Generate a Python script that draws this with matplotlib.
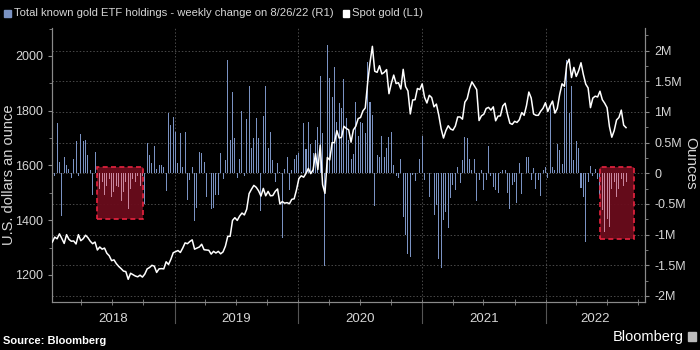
import matplotlib
matplotlib.use('Agg')
import matplotlib.pyplot as plt
import matplotlib.dates as mdates
import matplotlib.transforms as mtransforms
from matplotlib.patches import Rectangle
from matplotlib.lines import Line2D
from matplotlib.ticker import MultipleLocator, FixedLocator
import numpy as np
import pandas as pd

plt.rcParams['font.family'] = ['Liberation Sans', 'DejaVu Sans']

# ---- Spot gold, weekly (USD/oz) ----
gold_2018 = [1320,1338,1332,1350,1333,1315,1347,1330,1323,1324,1313,1347,1325,1332,1345,1336,1323,1314,1320,1291,
             1302,1294,1298,1279,1270,1252,1255,1241,1231,1223,1214,1212,1184,1206,1201,1196,1193,1199,1192,1203,
             1222,1227,1235,1232,1209,1222,1223,1222,1248,1238,1257,1281]
gold_2019 = [1285,1289,1282,1298,1317,1314,1322,1328,1294,1298,1302,1312,1292,1291,1290,1276,1286,1280,1286,1277,
             1284,1305,1341,1341,1399,1409,1399,1415,1426,1419,1440,1497,1513,1527,1520,1507,1488,1516,1489,1505,
             1489,1490,1505,1514,1459,1468,1462,1464,1460,1476,1478,1511]
gold_2020 = [1552,1562,1557,1571,1589,1570,1584,1643,1585,1674,1530,1498,1629,1620,1683,1683,1727,1700,1703,1743,
             1735,1730,1685,1730,1743,1771,1775,1799,1810,1902,1975,2035,1944,1940,1964,1934,1940,1950,1862,1900,
             1930,1899,1902,1879,1951,1888,1872,1788,1839,1840,1881,1877]
gold_2021 = [1898,1849,1828,1856,1848,1814,1824,1784,1734,1700,1727,1745,1733,1729,1744,1777,1777,1769,1831,1844,
             1881,1905,1891,1877,1764,1781,1787,1808,1812,1802,1814,1763,1780,1781,1817,1827,1787,1754,1750,1761,
             1757,1767,1793,1783,1818,1868,1846,1788,1783,1783,1798,1809,1829]
gold_2022 = [1797,1818,1835,1791,1808,1859,1898,1889,1970,1988,1921,1958,1925,1946,1975,1932,1897,1883,1811,1846,
             1853,1850,1871,1840,1827,1811,1742,1703,1727,1766,1775,1802,1747,1738]

# ---- Weekly change in total known gold ETF holdings (million oz) ----
etf_2018 = [0.11,-0.05,0.82,0.19,-0.70,0.27,0.14,0.07,-0.07,0.23,0.53,-0.04,0.64,0.53,0.55,0.29,0.05,-0.35,0.34,
            -0.05,-0.25,-0.15,-0.35,-0.20,-0.10,-0.38,-0.30,-0.20,-0.22,-0.45,-0.30,-0.15,-0.58,-0.25,-0.10,-0.15,
            -0.05,-0.20,-0.05,-0.50,0.50,
            0.29,0.17,0.44,0.07,0.13,0.13,0.11,-0.29,0.99,0.78,0.91]
etf_2019 = [0.67,0.17,0.65,0.10,0.67,-0.44,-0.11,0.10,-0.78,-0.57,0.34,0.33,0.19,-0.38,0.0,-0.58,-0.57,-0.36,-0.36,
            0.33,-0.10,0.22,1.85,0.54,1.33,0.57,-0.07,0.23,1.01,-0.04,0.88,
            1.43,0.41,0.57,0.90,0.57,-0.61,0.94,1.43,0.41,0.68,0.22,-0.15,0.16,0.02,-1.05,0.07,0.27,-0.27,0.05,0.23,0.29]
etf_2020 = [0.33,0.02,0.82,0.39,0.83,0.48,0.33,0.54,0.76,1.59,0.65,-1.51,2.10,1.55,1.25,1.73,0.83,1.15,1.06,1.53,0.90,
            0.55,0.24,0.32,1.17,0.61,0.84,0.82,0.65,1.81,1.17,0.95,-0.54,0.29,0.26,0.61,0.27,0.42,0.59,0.68,0.14,
            -0.04,-0.08,0.23,-0.71,-1.01,-1.32,-1.36,-0.03,-0.12,0.0,0.24]
etf_2021 = [0.61,-0.11,0.01,-0.38,0.01,-0.68,-0.51,-1.40,-1.55,-0.76,-0.63,
            -0.90,-0.40,-0.19,-0.28,0.10,-0.16,0.22,0.59,0.57,0.23,0.05,0.23,-0.46,-0.11,0.05,-0.27,-0.11,0.45,-0.05,
            -0.22,-0.27,-0.32,0.02,0.05,0.05,-0.32,-0.58,-0.19,-0.14,-0.49,0.16,-0.33,0.0,0.27,0.27,-0.11,0.09,-0.26,
            -0.11,-0.37,0.05,0.11]
etf_2022 = [-0.07,1.09,0.11,0.05,0.47,0.38,0.15,1.39,1.85,0.99,1.43,0.22,0.53,0.42,-0.24,-0.38,-1.12,-0.14,0.12,-0.05,0.07,
            -0.10,-0.35,-0.60,-0.95,-0.75,-0.88,-0.25,-0.15,-0.38,-0.25,-0.10,-0.20,-0.15]

years = ['2018', '2019', '2020', '2021', '2022']
right_ticks = [-2, -1.5, -1, -0.5, 0, 0.5, 1, 1.5, 2]
right_labels = ['-2M', '-1.5M', '-1M', '-0.5M', '0', '0.5M', '1M', '1.5M', '2M']
left_ticks = [1200, 1400, 1600, 1800, 2000]

# highlighted periods (start, end, top, bottom in million oz)
hl_start = ['2018-05-17', '2022-06-11']
hl_end = ['2018-09-30', '2022-09-18']
hl_top = [0.11, 0.10]
hl_bottom = [-0.75, -1.08]

gold = np.array(gold_2018 + gold_2019 + gold_2020 + gold_2021 + gold_2022, dtype=float)
etf = np.array(etf_2018 + etf_2019 + etf_2020 + etf_2021 + etf_2022, dtype=float)
gdates = pd.date_range('2018-01-05', periods=len(gold), freq='W-FRI')
edates = pd.date_range('2018-01-05', periods=len(etf), freq='W-FRI')

BG = 'black'
TXT = '#d6d6d6'
GRID = '#4a4a4a'
SPINE = '#8a8a8a'
BAR = '#7a92c2'
PINK = '#c9869f'

fig = plt.figure(figsize=(7, 3.5), dpi=100, facecolor=BG)
axb = fig.add_axes([52/700, 48/350, 593/700, 274/350])
axb.set_facecolor(BG)
axl = axb.twinx()

xmin = mdates.date2num(pd.Timestamp('2018-01-04'))
xmax = mdates.date2num(pd.Timestamp('2022-10-21'))

# bars
in_hl = np.zeros(len(etf), dtype=bool)
for s, e in zip(hl_start, hl_end):
    in_hl |= (edates >= pd.Timestamp(s)) & (edates <= pd.Timestamp(e))
colors = [PINK if f else BAR for f in in_hl]
for s, e, t, b in zip(hl_start, hl_end, hl_top, hl_bottom):
    x0 = mdates.date2num(pd.Timestamp(s)); x1 = mdates.date2num(pd.Timestamp(e))
    axb.add_patch(Rectangle((x0, b), x1 - x0, t - b, facecolor='#6a0c1c', edgecolor='none', alpha=0.95, zorder=1))
axb.bar(mdates.date2num(edates), etf, width=3.0, color=colors, linewidth=0, zorder=2)
for s, e, t, b in zip(hl_start, hl_end, hl_top, hl_bottom):
    x0 = mdates.date2num(pd.Timestamp(s)); x1 = mdates.date2num(pd.Timestamp(e))
    axb.add_patch(Rectangle((x0, b), x1 - x0, t - b, facecolor='none', edgecolor='#e8233f',
                            linestyle=(0, (3, 2)), linewidth=1.2, zorder=3))

axb.set_ylim(-2.10, 2.37)
axb.set_xlim(xmin, xmax)
axb.yaxis.tick_right()
axb.yaxis.set_label_position('right')
axb.yaxis.set_major_locator(FixedLocator(right_ticks))
axb.set_yticklabels(right_labels)
axb.yaxis.set_minor_locator(MultipleLocator(0.25))
axb.grid(axis='y', which='major', color=GRID, linestyle=(0, (1.5, 2)), linewidth=0.7, zorder=0)
axb.set_axisbelow(True)
for yr in years[1:]:
    axb.axvline(mdates.date2num(pd.Timestamp(f'{yr}-01-01')), color=GRID, linestyle=(0, (1.5, 2)), linewidth=0.7, zorder=0)
axb.set_ylabel('Ounces', color=TXT, fontsize=11, rotation=270, va='center')
axb.yaxis.set_label_coords((690 - 52) / 593, (350 - 163 - 48) / 274)

# line
axl.plot(mdates.date2num(gdates), gold, color='white', linewidth=1.1, zorder=5)
axl.set_ylim(1101, 2102)
axl.yaxis.tick_left()
axl.yaxis.set_label_position('left')
axl.yaxis.set_major_locator(FixedLocator(left_ticks))
axl.yaxis.set_minor_locator(MultipleLocator(100))
axl.set_ylabel('U.S. dollars an ounce', color=TXT, fontsize=10.5, va='center')
axl.yaxis.set_label_coords((9 - 52) / 593, (350 - 175 - 48) / 274)
axl.set_xlim(xmin, xmax)

for a in (axb, axl):
    a.tick_params(axis='y', which='major', colors=SPINE, labelcolor=TXT, labelsize=9, length=3, width=0.8)
    a.tick_params(axis='y', which='minor', colors=SPINE, length=2, width=0.6)
    for sp in a.spines.values():
        sp.set_color(SPINE)
        sp.set_linewidth(0.8)
    a.spines['top'].set_visible(False)

# x axis
axb.xaxis.set_major_locator(FixedLocator([mdates.date2num(pd.Timestamp(f'{y}-01-01')) for y in years[1:]]))
axb.xaxis.set_minor_locator(mdates.MonthLocator(bymonth=[1, 4, 7, 10]))
axb.tick_params(axis='x', which='both', labelbottom=False, colors=SPINE, direction='inout', length=4, width=0.6)
axl.tick_params(axis='x', which='both', labelbottom=False, length=0)

trans = mtransforms.blended_transform_factory(axb.transData, axb.transAxes)
for i, yr in enumerate(years):
    s = max(mdates.date2num(pd.Timestamp(f'{yr}-01-01')), xmin)
    e = min(mdates.date2num(pd.Timestamp(f'{int(yr)+1}-01-01')), xmax)
    axb.text((s + e) / 2, -0.04, yr, transform=trans, ha='center', va='top', color=TXT, fontsize=9.5)
    if i > 0:
        axb.add_line(Line2D([s, s], [0, -0.075], transform=trans, color='#555555', linewidth=0.8, clip_on=False))

# legend
fig.patches.append(Rectangle((4/700, 1 - 17/350), 7/700, 7/350, transform=fig.transFigure, color=BAR))
fig.text(14/700, 1 - 13.5/350, 'Total known gold ETF holdings - weekly change on 8/26/22 (R1)',
         color=TXT, fontsize=8.1, va='center', ha='left')
fig.patches.append(Rectangle((343/700, 1 - 17/350), 6/700, 7/350, transform=fig.transFigure, color='white'))
fig.text(352/700, 1 - 13.5/350, 'Spot gold (L1)', color=TXT, fontsize=8.1, va='center', ha='left')

# footer
fig.text(3/700, 9/350, 'Source: Bloomberg', color='white', fontsize=8, fontweight='bold', va='center', ha='left')
fig.text(684/700, 13/350, 'Bloomberg', color='white', fontsize=10.5, va='center', ha='right')
fig.patches.append(Rectangle((688/700, 9/350), 8/700, 9/350, transform=fig.transFigure, color='#bbbbbb'))

fig.savefig('out.png', dpi=100, facecolor=BG)
